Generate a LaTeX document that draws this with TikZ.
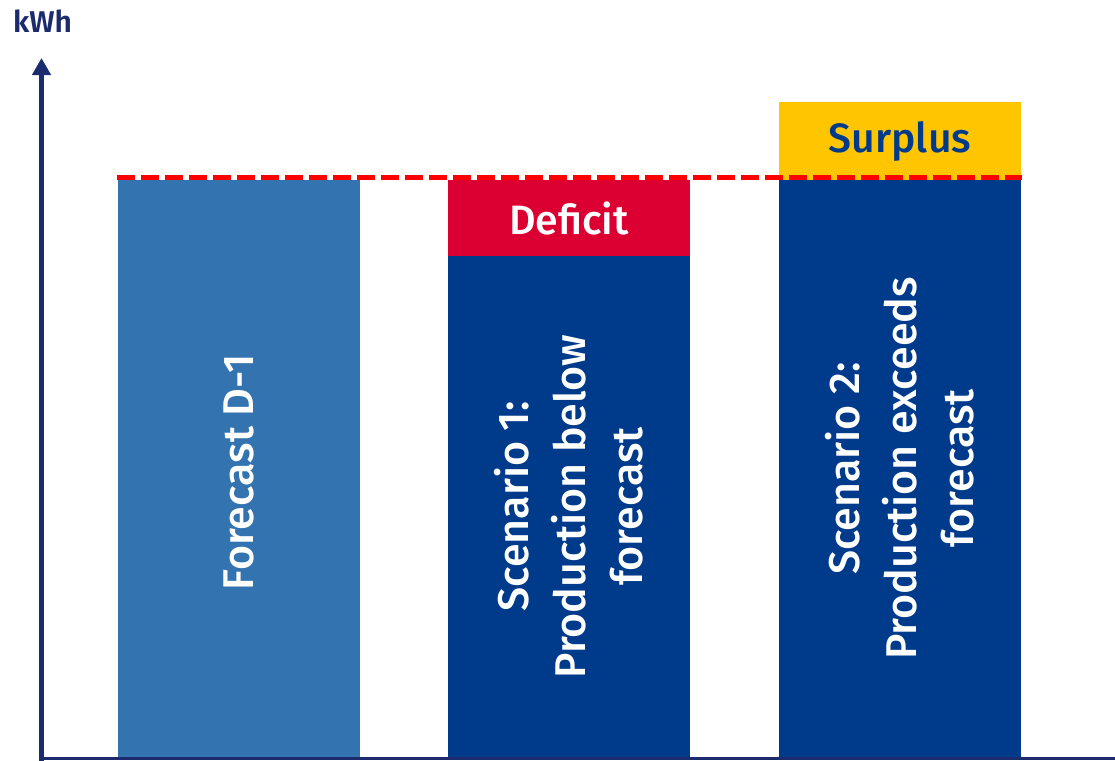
\documentclass[tikz,border=0pt]{standalone}
\usepackage{fontspec}
\setmainfont{Fira Sans Medium}[BoldFont={Fira Sans SemiBold}]
\usepackage{tikz}
\usetikzlibrary{arrows.meta,positioning}
\usepackage{xcolor}
\definecolor{barlight}{HTML}{3373B0}
\definecolor{bardark}{HTML}{003A8B}
\definecolor{barred}{HTML}{DC0032}
\definecolor{baryellow}{HTML}{FFC600}
\definecolor{axisnavy}{HTML}{1C2B6E}

\begin{document}
\begin{tikzpicture}[x=1pt,y=-1pt,
    bar/.style={draw=none,inner sep=0pt,outer sep=0pt,minimum width=242pt},
    barlabel/.style={text=white,font=\fontsize{43}{57}\selectfont,align=center,rotate=90},
    boxlabel/.style={font=\fontsize{41}{50}\selectfont},
    axis/.style={draw=axisnavy,line width=5pt}]
    \useasboundingbox (0,0) rectangle (1115,760);
    \node[bar,fill=barlight,minimum height=577pt,anchor=south] (fcst) at (239,757) {};
    \node[bar,fill=bardark,minimum height=501pt,anchor=south] (s1) at (569,757) {};
    \node[bar,fill=barred,minimum height=76pt,above=0pt of s1] (deficit) {};
    \node[bar,fill=bardark,minimum height=577pt,anchor=south] (s2) at (900,757) {};
    \node[bar,fill=baryellow,minimum height=78pt,above=0pt of s2] (surplus) {};
    \node[barlabel] (fcsttxt) at ([yshift=-4pt]fcst.center) {Forecast D-1};
    \node[barlabel] (s1txt) at (s1.center) {Scenario 1:\\Production below\\forecast};
    \node[barlabel] (s2txt) at (s2.center) {Scenario 2:\\Production exceeds\\forecast};
    \node[boxlabel,text=white] (deftxt) at (deficit.center) {Deficit};
    \node[boxlabel,text=bardark] (surtxt) at (surplus.center) {Surplus};
    \draw[red,line width=5pt,dash pattern=on 18pt off 6pt]
        ([yshift=2.5pt,xshift=-1pt]fcst.north west) -- ([yshift=2.5pt,xshift=1pt]s2.north east);
    \coordinate (origin) at (41.5,758.5);
    \coordinate (ytop) at (41.5,58);
    \coordinate (xend) at (1115,758.5);
    \draw[axis,-{Triangle[width=18pt,length=17pt]}] ([yshift=-2pt]origin) -- (ytop);
    \draw[axis,line width=3.5pt] ([xshift=-2.5pt]origin) -- (xend);
    \node[text=axisnavy,font=\bfseries\fontsize{30}{36}\selectfont,anchor=base] (unit) at (42.5,33) {kWh};
\end{tikzpicture}
\end{document}
